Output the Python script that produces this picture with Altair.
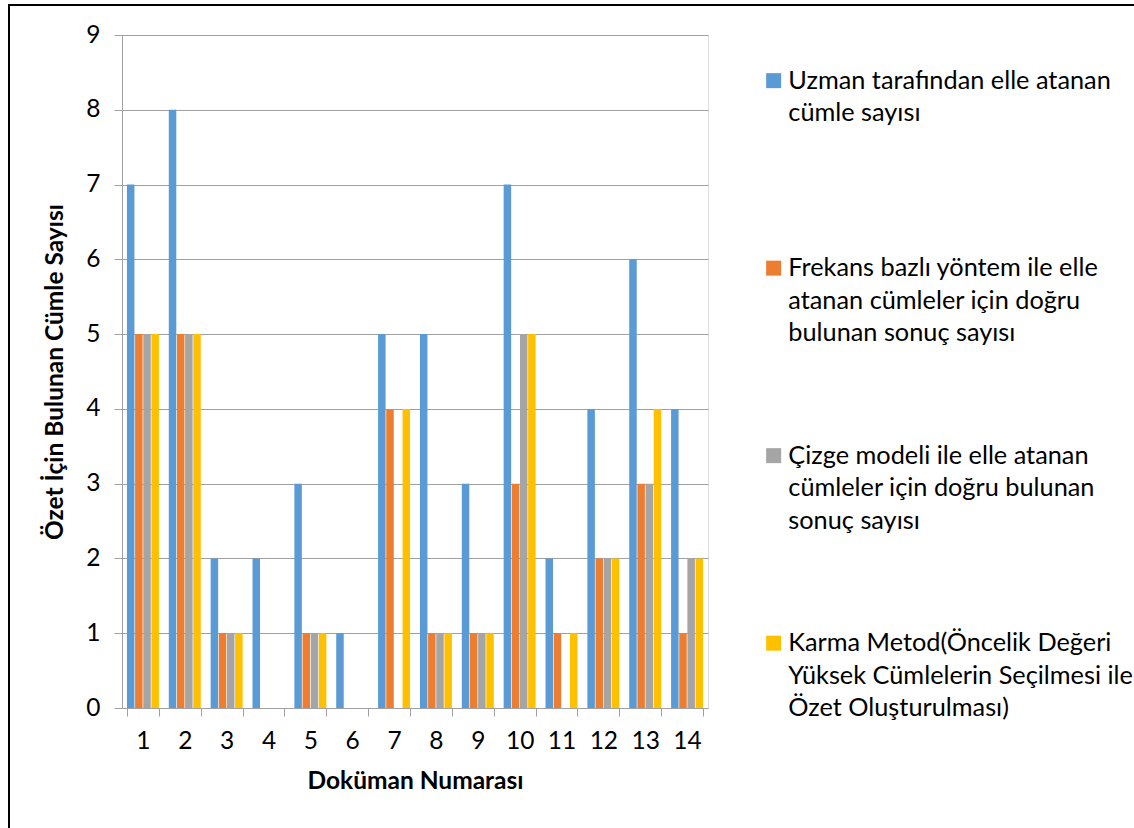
import json
import altair as alt
import pandas as pd

# Document numbers on the x axis
DOCS = [str(i) for i in range(1, 15)]

# Legend text of each series, one entry per line as it wraps in the legend
LEGEND_LINES = [
    ["Uzman tarafından elle atanan", "cümle sayısı"],
    ["Frekans bazlı yöntem ile elle", "atanan cümleler için doğru", "bulunan sonuç sayısı"],
    ["Çizge modeli ile elle atanan", "cümleler için doğru bulunan", "sonuç sayısı"],
    ["Karma Metod(Öncelik Değeri", "Yüksek Cümlelerin Seçilmesi ile", "Özet Oluşturulması)"],
]
SERIES = [" ".join(lines) for lines in LEGEND_LINES]
COLORS = ["#5B9BD5", "#ED7D31", "#A5A5A5", "#FFC000"]

# Sentence counts per document, one list per series
UZMAN = [7, 8, 2, 2, 3, 1, 5, 5, 3, 7, 2, 4, 6, 4]
FREKANS = [5, 5, 1, 0, 1, 0, 4, 1, 1, 3, 1, 2, 3, 1]
CIZGE = [5, 5, 1, 0, 1, 0, 0, 1, 1, 5, 0, 2, 3, 2]
KARMA = [5, 5, 1, 0, 1, 0, 4, 1, 1, 5, 1, 2, 4, 2]

rows = []
for name, values in zip(SERIES, [UZMAN, FREKANS, CIZGE, KARMA]):
    for doc, v in zip(DOCS, values):
        rows.append({"doc": doc, "seri": name, "deger": v})
df = pd.DataFrame(rows)

FONT = "Lato"
GRID = "#A0A0A0"
TEXT_SIZE = 24.5
LEGEND_SIZE = 25.3
LINE_H = 32.5
BLANK = "\u00a0"

# Multi-line legend labels; every entry padded to three lines so the rows are evenly spaced
label_map = {}
for name, lines in zip(SERIES, LEGEND_LINES):
    label_map[name] = lines + [BLANK] * (3 - len(lines))
label_expr = json.dumps(label_map, ensure_ascii=False) + "[datum.label]"

W, H = 586, 673
LEFT, TOP = 122, 35

bars = alt.Chart(df).mark_bar().encode(
    x=alt.X(
        "doc:N",
        sort=DOCS,
        scale=alt.Scale(paddingInner=0.236, paddingOuter=0.118),
        axis=alt.Axis(
            title="Doküman Numarası",
            labelAngle=0,
            tickBand="extent",
            tickSize=8,
            tickColor=GRID,
            domainColor=GRID,
            labelFont=FONT,
            labelFontSize=TEXT_SIZE,
            labelColor="black",
            labelPadding=13,
            titleFont=FONT,
            titleFontSize=TEXT_SIZE,
            titleFontWeight="bold",
            titleColor="black",
            titlePadding=17,
        ),
    ),
    xOffset=alt.XOffset("seri:N", sort=SERIES, scale=alt.Scale(paddingInner=0.08)),
    y=alt.Y(
        "deger:Q",
        scale=alt.Scale(domain=[0, 9], nice=False),
        axis=alt.Axis(
            title="Özet İçin Bulunan Cümle Sayısı",
            values=list(range(10)),
            tickSize=8,
            tickColor=GRID,
            domainColor=GRID,
            gridColor=GRID,
            gridWidth=1.2,
            labelFont=FONT,
            labelFontSize=TEXT_SIZE,
            labelColor="black",
            labelPadding=14,
            titleFont=FONT,
            titleFontSize=TEXT_SIZE,
            titleFontWeight="bold",
            titleColor="black",
            titlePadding=18,
        ),
    ),
    color=alt.Color(
        "seri:N",
        sort=SERIES,
        scale=alt.Scale(domain=SERIES, range=COLORS),
        legend=alt.Legend(
            title=None,
            orient="none",
            legendX=639,
            legendY=33,
            padding=0,
            symbolType="square",
            symbolSize=225,
            symbolStrokeWidth=0,
            labelFont=FONT,
            labelFontSize=LEGEND_SIZE,
            labelColor="black",
            labelOffset=2,
            labelLimit=500,
            labelExpr=label_expr,
            rowPadding=96.5,
        ),
    ),
)

# Outer frame of the figure
frame = alt.Chart(pd.DataFrame({"k": [0]})).mark_rect(
    fill=None, stroke="black", strokeWidth=2
).encode(
    x=alt.value(-113), x2=alt.value(1040), y=alt.value(-30), y2=alt.value(820)
)

chart = (
    alt.layer(bars, frame)
    .properties(
        width=W,
        height=H,
        autosize=alt.AutoSizeParams(type="none"),
        padding={"left": LEFT, "top": TOP, "right": 1134 - LEFT - W, "bottom": 828 - TOP - H},
        background="white",
    )
    .configure_view(stroke=None)
    .configure(style={"guide-label": {"lineHeight": LINE_H}})
)

chart.save("out.html", embed_options={"renderer": "svg", "actions": False})
